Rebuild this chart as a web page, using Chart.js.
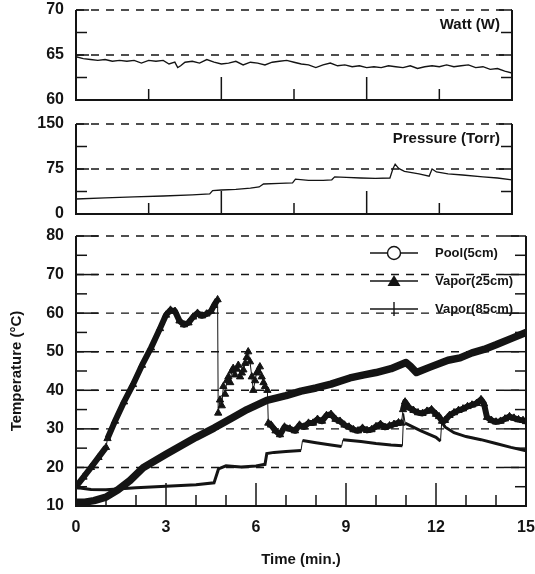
<!DOCTYPE html>
<html>
<head>
<meta charset="utf-8">
<script src="https://cdn.jsdelivr.net/npm/chart.js@4.4.1/dist/chart.umd.min.js"></script>
<style>
  body { margin: 0; background: #fff; }
  #wrap { position: relative; width: 535px; height: 574px; }
  #wrap canvas { position: absolute; left: 0; top: 0; }
</style>
</head>
<body>
<div id="wrap">
  <canvas id="wattChart" width="535" height="574"></canvas>
  <canvas id="pressChart" width="535" height="574"></canvas>
  <canvas id="tempChart" width="535" height="574"></canvas>
</div>
<script>
// [time (min), value]
var wattData = [[0,64.8],[0.25,64.6],[0.5,64.5],[0.75,64.4],[1,64.5],[1.25,64.3],[1.5,64.4],[1.75,64.3],[2,64.4],[2.25,64.1],
  [2.5,64.4],[2.75,64.3],[3,64.4],[3.2,64.0],[3.4,64.2],[3.5,63.6],[3.6,63.8],[3.75,64.2],[4,64.3],[4.25,64.1],[4.5,64.5],
  [4.75,64.2],[5,64.0],[5.25,64.1],[5.5,64.3],[5.75,63.9],[6,64.2],[6.25,64.1],[6.5,63.9],[6.75,64.2],[7,64.3],[7.25,64.4],
  [7.5,64.2],[7.75,64.0],[8,63.9],[8.25,63.6],[8.5,63.9],[8.75,64.1],[9,63.8],[9.25,63.9],[9.5,63.7],[9.75,63.8],[10,63.6],
  [10.25,63.7],[10.5,63.6],[10.75,63.8],[11,63.7],[11.25,63.6],[11.5,63.8],[11.75,63.5],[12,63.7],[12.25,63.8],[12.5,63.7],
  [12.75,63.9],[13,63.7],[13.25,63.8],[13.5,63.9],[13.75,63.6],[14,63.7],[14.25,63.4],[14.5,63.5],[14.75,63.2],[15,63.0]];

var pressureData = [[0,25],[1,27],[2,28.5],[3,30],[4,32],[4.6,33.5],[4.7,39],[5,40],[5.5,41],[6,43],[6.3,45],[6.45,50],
  [7,51],[7.45,52],[7.55,58],[8,56],[8.5,56],[8.8,57],[8.9,62],[9.3,61],[9.8,60],[10.3,59.5],[10.8,60],[10.9,75],[10.98,83],
  [11.1,76],[11.3,71],[11.8,67],[12.15,63],[12.25,75],[12.4,70],[12.8,67],[13.3,65],[14,62],[14.5,60],[15,57]];

var pool5cm = [[0,11],[0.3,11],[0.6,11.4],[1,12.3],[1.4,14.2],[1.8,16.6],[2.25,20],[3,23.4],[3.5,25.6],[4,27.8],[4.6,30.2],
  [5.2,32.8],[5.7,35],[6.36,37.4],[7,38.6],[7.5,39.8],[8,40.6],[8.5,41.6],[9.13,43.2],[9.6,44],[10,44.6],[10.5,45.6],
  [11,47.2],[11.15,46.2],[11.35,44.6],[11.8,46],[12.4,47.8],[12.8,48.4],[13.2,49.7],[13.6,50.6],[14,51.8],[14.5,53.4],[15,55]];

var vapor25cm = [[0,15],[0.25,17.5],[0.5,20],[0.75,22.6],[1,25.2],[1.05,27.5],[1.3,32],[1.6,37],[1.9,41.5],[2.2,46.5],[2.5,51],
  [2.8,56],[3.0,59.5],[3.15,60.8],[3.3,60.5],[3.45,58],[3.6,57],[3.75,57.5],[3.9,59],[4.05,60],[4.2,59.3],[4.35,59.8],[4.5,60.5],
  [4.6,62],[4.72,63.5],[4.74,34.1],[4.8,37.5],[4.86,36],[4.91,41],[4.97,39],[5.03,42.5],[5.08,43.5],[5.14,42],[5.19,45],
  [5.24,45.7],[5.3,44],[5.36,45.5],[5.41,46.5],[5.47,43.5],[5.53,44.5],[5.58,45.3],[5.64,47],[5.69,48.5],[5.74,50],[5.8,47.4],
  [5.86,43.5],[5.91,40],[5.97,42.5],[6.02,44.5],[6.08,45],[6.13,46.1],[6.19,43.5],[6.25,42],[6.3,41],[6.38,40],
  [6.41,31.5],[6.5,31],[6.65,29.5],[6.8,28.5],[6.95,30.5],[7.13,30],[7.3,29.5],[7.45,31],[7.6,30.5],
  [7.75,31.5],[7.9,31.5],[8.05,32.5],[8.2,32],[8.35,33.5],[8.5,33.8],[8.65,32.5],[8.8,32],[8.95,31],[9.1,30.5],[9.25,29.8],
  [9.4,29.5],[9.55,30.2],[9.7,29.6],[9.85,29.8],[10.0,30.6],[10.15,31.2],[10.3,30.4],[10.45,30.8],[10.6,31.2],[10.75,31.6],
  [10.85,31.5],[10.9,35],[10.97,37],[11.1,35.5],[11.25,34.8],[11.4,34.2],[11.55,34],[11.7,34.6],[11.85,35],[12.0,33.8],
  [12.1,33.2],[12.2,32],[12.3,32.2],[12.45,33.5],[12.6,34.2],[12.75,34.8],[12.9,35.2],[13.05,35.8],[13.2,36.2],[13.35,36.6],
  [13.5,37.6],[13.6,36.5],[13.7,33],[13.85,32.2],[14.0,31.8],[14.15,32],[14.3,32.6],[14.45,33.2],[14.6,32.8],[14.75,32.4],
  [14.9,32.2],[15,31.9]];

var vapor85cm = [[0,14.8],[0.5,14.3],[1,14.2],[1.5,14.5],[2,14.7],[2.5,14.9],[3,15.1],[3.5,15.3],[4,15.5],[4.6,16],
  [4.75,19.6],[5,20.4],[5.5,20.1],[6,20.4],[6.3,20.8],[6.36,23.6],[6.6,23.9],[7,24.1],[7.5,24.4],[7.55,27],[8,26.4],[8.5,25.8],
  [8.85,25.4],[8.9,27.2],[9.5,26.7],[10,26.2],[10.5,25.8],[10.88,25.6],[10.92,34],[10.97,31.5],[11.5,29.5],[12,27.8],
  [12.15,26.8],[12.19,31.8],[12.3,30.5],[12.6,29],[13,28],[13.5,27.2],[14,26.2],[14.5,25.2],[15,24.3]];

var seriesNames = ['Pool(5cm)', 'Vapor(25cm)', 'Vapor(85cm)'];

var INK = '#141414';
var FONT = '"Liberation Sans", Arial, sans-serif';

Chart.defaults.font.family = FONT;
Chart.defaults.font.weight = 'bold';
Chart.defaults.color = INK;

function xy(rows) {
  return rows.map(function (r) { return { x: r[0], y: r[1] }; });
}

function seg(ctx, x1, y1, x2, y2) {
  ctx.beginPath();
  ctx.moveTo(x1, y1);
  ctx.lineTo(x2, y2);
  ctx.stroke();
}

function drawLegend(chart) {
  var ctx = chart.ctx;
  var rows = [253, 281, 309];
  chart.data.datasets.forEach(function (ds, i) {
    var cy = rows[i], cx = 394;
    ctx.setLineDash([]);
    ctx.strokeStyle = INK;
    ctx.lineWidth = 1.4;
    seg(ctx, 370, cy, 418, cy);
    if (ds.pointStyle === 'circle') {
      ctx.beginPath();
      ctx.arc(cx, cy, 6.5, 0, Math.PI * 2);
      ctx.fillStyle = '#fff';
      ctx.fill();
      ctx.stroke();
    } else if (ds.pointStyle === 'triangle') {
      ctx.beginPath();
      ctx.moveTo(cx, cy - 6);
      ctx.lineTo(cx + 6.5, cy + 5);
      ctx.lineTo(cx - 6.5, cy + 5);
      ctx.closePath();
      ctx.fillStyle = INK;
      ctx.fill();
    } else {
      seg(ctx, cx, cy - 7, cx, cy + 7);
    }
    ctx.fillStyle = INK;
    ctx.font = 'bold 13px ' + FONT;
    ctx.textAlign = 'left';
    ctx.textBaseline = 'middle';
    ctx.fillText(ds.label, 435, cy);
  });
}

// frame, dashed grid, inward ticks and the small panel caption
function makeFrame(o) {
  return {
    id: 'frame',
    beforeDatasetsDraw: function (chart) {
      var ctx = chart.ctx, a = chart.chartArea, y = chart.scales.y;
      ctx.save();
      ctx.strokeStyle = INK;
      ctx.lineWidth = 1.4;
      ctx.setLineDash([8, 7]);
      o.grid.forEach(function (v) {
        var py = y.getPixelForValue(v);
        seg(ctx, a.left, py, a.right, py);
      });
      ctx.restore();
    },
    afterDatasetsDraw: function (chart) {
      var ctx = chart.ctx, a = chart.chartArea, x = chart.scales.x, y = chart.scales.y;
      ctx.save();
      ctx.strokeStyle = INK;
      ctx.lineWidth = 2;
      ctx.beginPath();
      ctx.moveTo(a.left, a.top);
      ctx.lineTo(a.left, a.bottom);
      ctx.lineTo(a.right, a.bottom);
      ctx.lineTo(a.right, a.top);
      ctx.stroke();
      ctx.lineWidth = 1.5;
      function yTick(v, len) {
        var py = y.getPixelForValue(v);
        seg(ctx, a.left, py, a.left + len, py);
        seg(ctx, a.right - len, py, a.right, py);
      }
      function xTick(v, len) {
        var px = x.getPixelForValue(v);
        seg(ctx, px, a.bottom, px, a.bottom - len);
      }
      o.yMajor.forEach(function (v) { yTick(v, o.yMajorLen); });
      o.yMinor.forEach(function (v) { yTick(v, 11); });
      o.xMajor.forEach(function (v) { xTick(v, 23); });
      o.xMinor.forEach(function (v) { xTick(v, 11); });
      if (o.note) {
        ctx.fillStyle = INK;
        ctx.font = 'bold 15px ' + FONT;
        ctx.textAlign = 'right';
        ctx.textBaseline = 'middle';
        ctx.fillText(o.note, a.right - 12, a.top + 15);
      }
      if (o.legend) drawLegend(chart);
      ctx.restore();
    }
  };
}

// fixed axis box; the layout padding alone decides where the plot sits
function yAxis(min, max, step, extra) {
  var ax = {
    min: min, max: max,
    afterFit: function (s) { s.width = 76; s.paddingTop = 0; s.paddingBottom = 0; },
    grid: { display: false, drawTicks: false },
    border: { display: false },
    ticks: { stepSize: step, padding: 12, font: { size: 16 } }
  };
  return Object.assign(ax, extra || {});
}

var baseOptions = {
  responsive: false,
  animation: false,
  events: [],
  plugins: { legend: { display: false }, tooltip: { enabled: false } }
};

// Watt panel
new Chart(document.getElementById('wattChart'), {
  type: 'line',
  data: { datasets: [{ data: xy(wattData), borderColor: INK, borderWidth: 1.4, pointRadius: 0 }] },
  options: Object.assign({}, baseOptions, {
    layout: { padding: { top: 10, right: 23, bottom: 474, left: 0 } },
    scales: {
      x: { type: 'linear', min: 0, max: 15, display: false },
      y: yAxis(60, 70, 5)
    }
  }),
  plugins: [makeFrame({ grid: [65, 70], yMajor: [65, 70], yMinor: [62.5, 67.5], yMajorLen: 13,
    xMajor: [5, 10], xMinor: [2.5, 7.5, 12.5], note: 'Watt (W)' })]
});

// Pressure panel
new Chart(document.getElementById('pressChart'), {
  type: 'line',
  data: { datasets: [{ data: xy(pressureData), borderColor: INK, borderWidth: 1.3, pointRadius: 0 }] },
  options: Object.assign({}, baseOptions, {
    layout: { padding: { top: 124, right: 23, bottom: 360, left: 0 } },
    scales: {
      x: { type: 'linear', min: 0, max: 15, display: false },
      y: yAxis(0, 150, 75)
    }
  }),
  plugins: [makeFrame({ grid: [75, 150], yMajor: [75, 150], yMinor: [37.5, 112.5], yMajorLen: 13,
    xMajor: [5, 10], xMinor: [2.5, 7.5, 12.5], note: 'Pressure (Torr)' })]
});

// thin connecting line where the readings jump or scatter
function thinAt(lo, hi, wide) {
  return function (c) {
    var x0 = c.p0.parsed.x, x1 = c.p1.parsed.x;
    if (x1 - x0 < 0.06) return 1;
    if (x0 >= lo && x1 <= hi) return 1;
    return wide;
  };
}

// Temperature panel
new Chart(document.getElementById('tempChart'), {
  type: 'line',
  data: {
    datasets: [
      { label: seriesNames[0], data: xy(pool5cm), borderColor: INK, borderWidth: 7.5,
        pointStyle: 'circle', pointRadius: 0, borderJoinStyle: 'round', borderCapStyle: 'round' },
      { label: seriesNames[1], data: xy(vapor25cm), borderColor: INK, borderWidth: 6,
        pointStyle: 'triangle', pointRadius: 4.2, pointBackgroundColor: INK, pointBorderColor: INK, pointBorderWidth: 1,
        borderJoinStyle: 'round', segment: { borderWidth: thinAt(4.72, 6.41, 6) } },
      { label: seriesNames[2], data: xy(vapor85cm), borderColor: INK, borderWidth: 3,
        pointStyle: 'cross', pointRadius: 0, segment: { borderWidth: thinAt(99, 99, 3) } }
    ]
  },
  options: Object.assign({}, baseOptions, {
    layout: { padding: { top: 236, right: 9, bottom: 0, left: 0 } },
    scales: {
      x: {
        type: 'linear', min: 0, max: 15,
        afterFit: function (s) { s.height = 68; s.paddingLeft = 0; s.paddingRight = 0; },
        grid: { display: false, drawTicks: false },
        border: { display: false },
        ticks: { stepSize: 3, padding: 12, font: { size: 16 } },
        title: { display: true, text: 'Time (min.)', font: { size: 15 }, padding: { top: 0, bottom: 5 } }
      },
      y: yAxis(10, 80, 10, {
        title: { display: true, text: 'Temperature (°C)', font: { size: 15 }, padding: { top: 8, bottom: 0 } }
      })
    }
  }),
  plugins: [makeFrame({ grid: [20, 30, 40, 50, 60, 70, 80], yMajor: [20, 30, 40, 50, 60, 70, 80],
    yMinor: [15, 25, 35, 45, 55, 65, 75], yMajorLen: 22,
    xMajor: [3, 6, 9, 12], xMinor: [1, 2, 4, 5, 7, 8, 10, 11, 13, 14], legend: true })]
});
</script>
</body>
</html>
